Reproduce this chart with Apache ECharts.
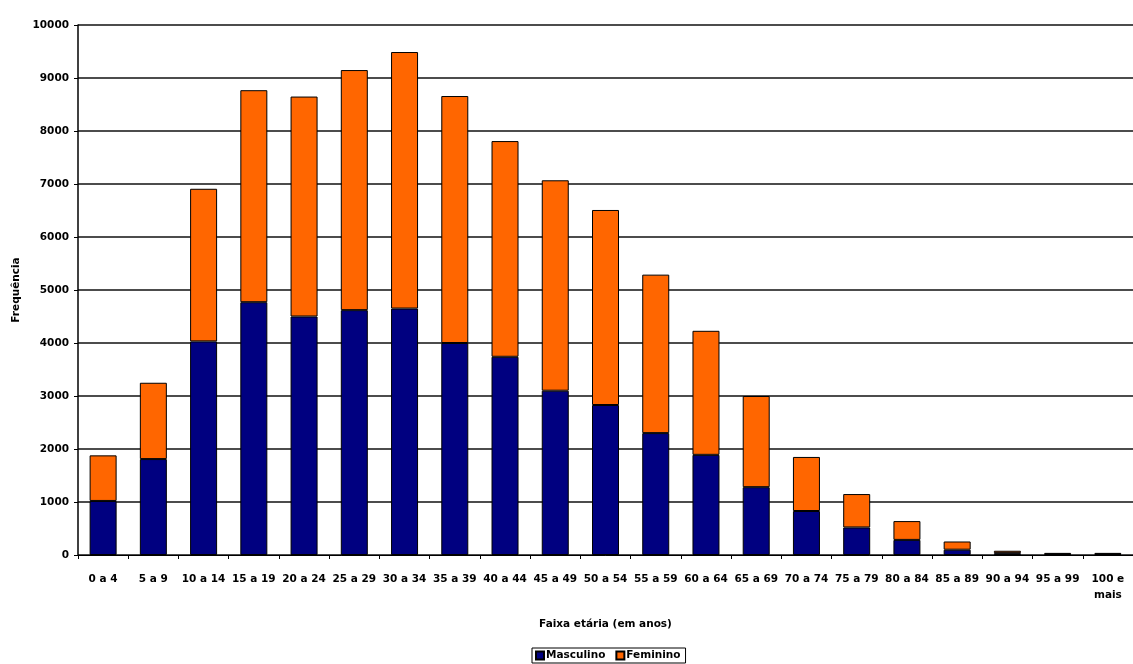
<!DOCTYPE html>
<html>
<head>
<meta charset="utf-8">
<style>
  html, body { margin: 0; padding: 0; background: #fff; }
  #chart { width: 1133px; height: 664px; }
</style>
<script src="https://cdn.jsdelivr.net/npm/echarts@6/dist/echarts.min.js"></script>
</head>
<body>
<div id="chart"></div>
<script>
// Age groups (years)
const faixas = ['0 a 4', '5 a 9', '10 a 14', '15 a 19', '20 a 24', '25 a 29', '30 a 34',
  '35 a 39', '40 a 44', '45 a 49', '50 a 54', '55 a 59', '60 a 64', '65 a 69',
  '70 a 74', '75 a 79', '80 a 84', '85 a 89', '90 a 94', '95 a 99', '100 e\nmais'];

// Counts per age group
const masculino = [1020, 1810, 4030, 4770, 4500, 4620, 4650, 4000, 3740, 3100, 2830,
  2300, 1890, 1280, 830, 520, 285, 100, 35, 15, 15];
const feminino = [860, 1440, 2880, 4000, 4150, 4530, 4840, 4660, 4070, 3970, 3680,
  2990, 2340, 1720, 1020, 630, 355, 155, 45, 25, 25];

const chart = echarts.init(document.getElementById('chart'), null, { renderer: 'canvas' });
const txt = { fontFamily: 'DejaVu Sans, sans-serif', fontSize: 10.5, fontWeight: 'bold', color: '#000' };

chart.setOption({
  animation: false,
  backgroundColor: '#fff',
  textStyle: txt,
  grid: { left: 78, right: -9, top: 25, bottom: 109, containLabel: false },
  legend: {
    data: ['Masculino', 'Feminino'],
    left: 532, top: 648,
    itemWidth: 8, itemHeight: 8, itemGap: 10,
    padding: [2, 5, 2, 3],
    borderColor: '#000', borderWidth: 1,
    textStyle: Object.assign({}, txt, { padding: [0, 0, 0, -3] }),
    icon: 'rect'
  },
  xAxis: {
    type: 'category',
    data: faixas,
    name: 'Faixa etária (em anos)',
    nameLocation: 'middle',
    nameGap: 64,
    nameTextStyle: txt,
    axisLine: { show: true, lineStyle: { color: '#000', width: 1 } },
    axisTick: { show: true, length: 4, lineStyle: { color: '#000' }, alignWithLabel: false },
    axisLabel: Object.assign({}, txt, { interval: 0, margin: 16, lineHeight: 16, verticalAlign: 'top' }),
    splitLine: { show: false }
  },
  yAxis: {
    type: 'value',
    min: 0, max: 10000, interval: 1000,
    name: 'Frequência',
    nameLocation: 'middle',
    nameGap: 55,
    nameRotate: 90,
    nameTextStyle: txt,
    axisLine: { show: true, lineStyle: { color: '#000', width: 1.5 } },
    axisTick: { show: true, length: 4, lineStyle: { color: '#000' } },
    axisLabel: Object.assign({}, txt, { margin: 9, formatter: v => String(v) }),
    splitLine: { show: true, lineStyle: { color: '#111', width: 1.5 } }
  },
  series: [
    {
      name: 'Masculino', type: 'bar', stack: 'total', data: masculino,
      barWidth: 27,
      itemStyle: { color: '#000080', borderColor: '#000', borderWidth: 1 }
    },
    {
      name: 'Feminino', type: 'bar', stack: 'total', data: feminino,
      barWidth: 27,
      itemStyle: { color: '#ff6600', borderColor: '#000', borderWidth: 1 }
    }
  ]
});
</script>
</body>
</html>
